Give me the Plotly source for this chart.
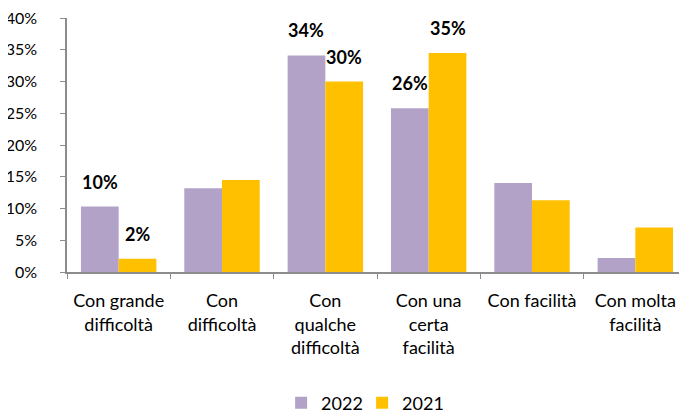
import plotly.graph_objects as go

categories = ["Con grande<br>difficoltà", "Con<br>difficoltà", "Con<br>qualche<br>difficoltà",
              "Con una<br>certa<br>facilità", "Con facilità", "Con molta<br>facilità"]
values_2022 = [10.3, 13.2, 34.1, 25.8, 14.0, 2.2]
values_2021 = [2.1, 14.5, 30.0, 34.5, 11.3, 7.0]
labels_2022 = ["10%", None, "34%", "26%", None, None]
labels_2021 = ["2%", None, "30%", "35%", None, None]
y_ticks = [0, 5, 10, 15, 20, 25, 30, 35, 40]
y_ticklabels = [f"{v}%" for v in y_ticks]

FONT = "Lato"
C22 = "#B3A2C7"
C21 = "#FFC000"

fig = go.Figure()
fig.add_bar(name="2022", x=categories, y=values_2022, marker_color=C22,
            marker_line_width=0)
fig.add_bar(name="2021", x=categories, y=values_2021, marker_color=C21,
            marker_line_width=0)

for labs, vals, shift in ((labels_2022, values_2022, -19), (labels_2021, values_2021, 19)):
    for c, lab, v in zip(categories, labs, vals):
        if lab:
            fig.add_annotation(x=c, y=v, text=f"<b>{lab}</b>", showarrow=False,
                               xshift=shift, yshift=25, yanchor="middle",
                               font=dict(family=FONT, size=18, color="#000000"))

fig.update_layout(
    width=687, height=411,
    margin=dict(l=59, r=8, t=10, b=147, autoexpand=False),
    paper_bgcolor="white", plot_bgcolor="white",
    barmode="group", bargap=0.27, bargroupgap=0,
    font=dict(family=FONT, size=18, color="#000000"),
    legend=dict(orientation="h", x=0.476, xref="paper", xanchor="center",
                yref="container", y=0.039, yanchor="middle",
                font=dict(family=FONT, size=18), itemsizing="constant",
                entrywidth=36, entrywidthmode="pixels"),
    showlegend=True,
)
fig.update_yaxes(range=[0, 40], tickvals=y_ticks, ticktext=y_ticklabels,
                 showgrid=False, zeroline=False, showline=True, linecolor="#8c8c8c",
                 linewidth=1.5, ticks="outside", ticklen=5, tickcolor="#8c8c8c",
                 ticklabelstandoff=20, ticklabeloverflow="allow", automargin=False,
                 tickfont=dict(family=FONT, size=16))
fig.update_xaxes(showline=True, linecolor="#8c8c8c", linewidth=1.5,
                 ticks="outside", ticklen=5, tickcolor="#8c8c8c", tickson="boundaries",
                 ticklabelstandoff=12, tickangle=0, automargin=False,
                 tickfont=dict(family=FONT, size=18))

fig.write_html("out.html")
